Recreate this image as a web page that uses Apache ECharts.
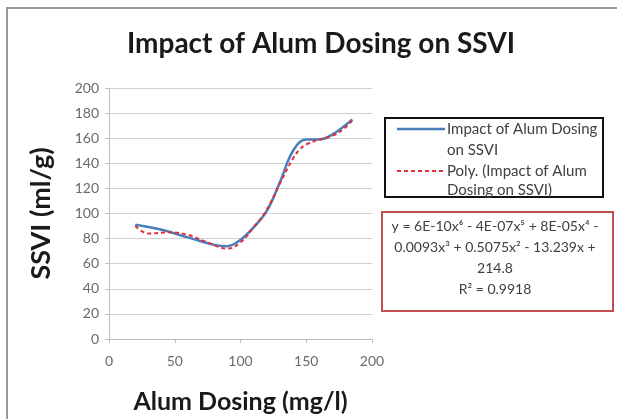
<!DOCTYPE html>
<html>
<head>
<meta charset="utf-8">
<script src="https://cdn.jsdelivr.net/npm/echarts@6/dist/echarts.min.js"></script>
<style>
  html, body { margin: 0; padding: 0; background: #ffffff; }
  #chart { width: 617px; height: 419px; }
</style>
</head>
<body>
<div id="chart"></div>
<script>
  // data
  var dosing = [20, 40, 60, 80, 90, 100, 110, 120, 130, 140, 150, 160, 170, 185];
  var ssvi = [91, 87, 81, 75, 74, 79, 89, 102, 125, 150, 159, 159, 163, 175];

  // trendline (red dashed), also
  var polyX = [20, 30, 45, 60, 75, 90, 100, 110, 120, 130, 140, 145, 150, 160, 170, 178, 185];
  var polyY = [90, 84, 85, 83, 77, 72, 77, 89, 103, 124, 144, 151, 155, 159, 162, 167, 174];

  var xTicks = [0, 50, 100, 150, 200];
  var yTicks = [0, 20, 40, 60, 80, 100, 120, 140, 160, 180, 200];

  var eqLines = [
    'y = 6E-10x⁶ - 4E-07x⁵ + 8E-05x⁴ -',
    '0.0093x³ + 0.5075x² - 13.239x +',
    '214.8',
    'R² = 0.9918'
  ];

  function pairs(xs, ys) {
    return xs.map(function (x, i) { return [x, ys[i]]; });
  }

  var myChart = echarts.init(document.getElementById('chart'));

  var font = 'Lato, "Open Sans", sans-serif';

  myChart.setOption({
    animation: false,
    title: {
      text: 'Impact of Alum Dosing on SSVI',
      left: 316,
      top: 25,
      textAlign: 'center',
      textStyle: { fontFamily: font, fontSize: 28, fontWeight: 'bold', color: '#1a1a1a' }
    },
    grid: { left: 109, right: 245, top: 88, bottom: 79 },
    xAxis: {
      type: 'value',
      min: xTicks[0],
      max: xTicks[xTicks.length - 1],
      interval: 50,
      name: 'Alum Dosing (mg/l)',
      nameLocation: 'middle',
      nameGap: 50,
      nameTextStyle: { fontFamily: font, fontSize: 25, fontWeight: 'bold', color: '#1a1a1a' },
      axisLine: { show: true, lineStyle: { color: '#bfbfbf' } },
      axisTick: { show: true, length: 4, lineStyle: { color: '#bfbfbf' } },
      axisLabel: { fontFamily: font, fontSize: 14, color: '#6a6a6a', margin: 15 },
      splitLine: { show: false }
    },
    yAxis: {
      type: 'value',
      min: yTicks[0],
      max: yTicks[yTicks.length - 1],
      interval: 20,
      name: 'SSVI (ml/g)',
      nameLocation: 'middle',
      nameGap: 54,
      nameTextStyle: { fontFamily: font, fontSize: 27, fontWeight: 'bold', color: '#1a1a1a' },
      axisLine: { show: true, lineStyle: { color: '#bfbfbf' } },
      axisTick: { show: true, length: 4, lineStyle: { color: '#bfbfbf' } },
      axisLabel: { fontFamily: font, fontSize: 14, color: '#6a6a6a', margin: 10 },
      splitLine: { show: true, lineStyle: { color: '#d0d0d0', width: 1 } }
    },
    series: [
      {
        name: 'Impact of Alum Dosing on SSVI',
        type: 'line',
        smooth: 0.4,
        showSymbol: false,
        data: pairs(dosing, ssvi),
        lineStyle: { color: '#4a7ebb', width: 2.5 },
        z: 2
      },
      {
        name: 'Poly. (Impact of Alum Dosing on SSVI)',
        type: 'line',
        smooth: 0.4,
        showSymbol: false,
        data: pairs(polyX, polyY),
        lineStyle: { color: '#e0303a', width: 2, type: [4, 3] },
        z: 3
      }
    ],
    graphic: [
      // outer chart frame
      {
        type: 'rect',
        shape: { x: 7, y: 8, width: 700, height: 500 },
        style: { fill: 'none', stroke: '#9a9a9a', lineWidth: 2 },
        silent: true
      },
      // legend box
      {
        type: 'rect',
        shape: { x: 385, y: 118, width: 218, height: 79 },
        style: { fill: '#ffffff', stroke: '#111111', lineWidth: 2 }
      },
      {
        type: 'line',
        shape: { x1: 397, y1: 129, x2: 445, y2: 129 },
        style: { stroke: '#4a7ebb', lineWidth: 2.5 }
      },
      {
        type: 'text',
        left: 447, top: 119,
        style: {
          text: 'Impact of Alum Dosing\non SSVI',
          fontFamily: font, fontSize: 15, lineHeight: 21, fill: '#404040'
        }
      },
      {
        type: 'line',
        shape: { x1: 397, y1: 171, x2: 445, y2: 171 },
        style: { stroke: '#e0303a', lineWidth: 2, lineDash: [4, 3] }
      },
      {
        type: 'text',
        left: 447, top: 162,
        style: {
          text: 'Poly. (Impact of Alum\nDosing on SSVI)',
          fontFamily: font, fontSize: 15, lineHeight: 19, fill: '#404040'
        }
      },
      // equation box
      {
        type: 'rect',
        shape: { x: 382, y: 212, width: 231, height: 99 },
        style: { fill: '#ffffff', stroke: '#c0504d', lineWidth: 2 }
      },
      {
        type: 'text',
        x: 495, y: 216,
        style: {
          text: eqLines.join('\n'),
          align: 'center',
          fontFamily: font, fontSize: 14, lineHeight: 21, fill: '#404040'
        }
      }
    ]
  });
</script>
</body>
</html>
